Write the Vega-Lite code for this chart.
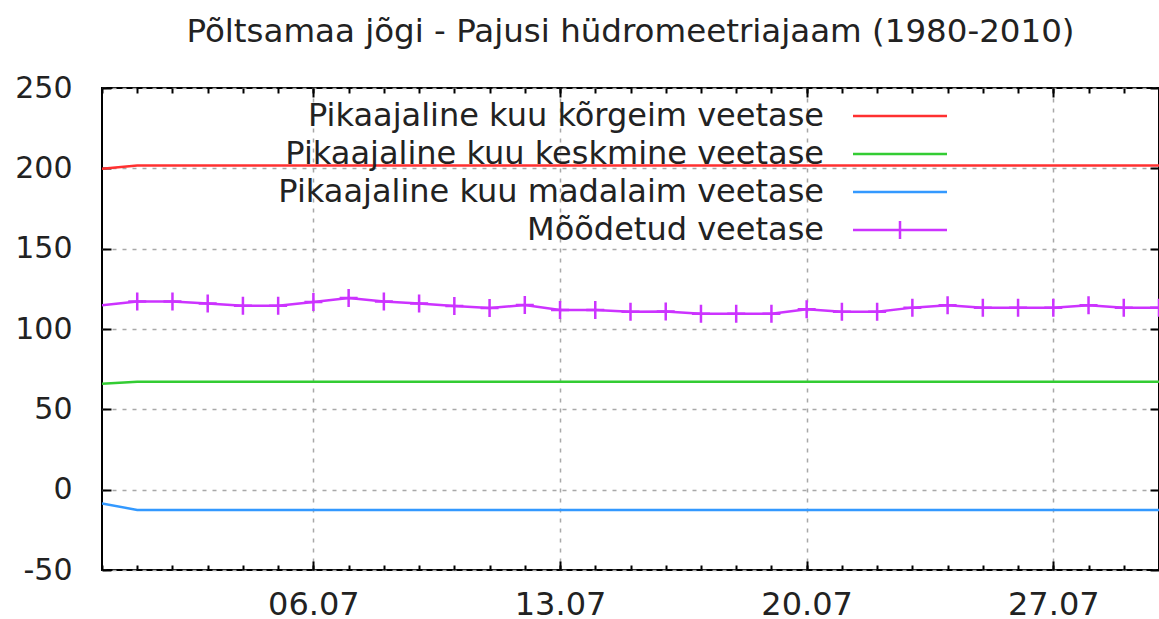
{
  "$schema": "https://vega.github.io/schema/vega-lite/v6.json",
  "width": 1057,
  "height": 482,
  "autosize": {"type": "none"},
  "padding": {"left": 102, "top": 88, "right": 0, "bottom": 49},
  "background": "#ffffff",
  "title": {
    "text": "Põltsamaa jõgi - Pajusi hüdromeetriajaam (1980-2010)",
    "font": "DejaVu Sans",
    "fontSize": 32.5,
    "fontWeight": "normal",
    "color": "#222222",
    "anchor": "middle",
    "frame": "group",
    "baseline": "alphabetic",
    "offset": -1
  },
  "datasets": {
    "levels": [
      {"series": "Pikaajaline kuu kõrgeim veetase", "date": "2010-06-30", "value": 199.8},
      {"series": "Pikaajaline kuu kõrgeim veetase", "date": "2010-07-01", "value": 201.8},
      {"series": "Pikaajaline kuu kõrgeim veetase", "date": "2010-07-30", "value": 201.8},
      {"series": "Pikaajaline kuu keskmine veetase", "date": "2010-06-30", "value": 66.0},
      {"series": "Pikaajaline kuu keskmine veetase", "date": "2010-07-01", "value": 67.2},
      {"series": "Pikaajaline kuu keskmine veetase", "date": "2010-07-30", "value": 67.2},
      {"series": "Pikaajaline kuu madalaim veetase", "date": "2010-06-30", "value": -8.6},
      {"series": "Pikaajaline kuu madalaim veetase", "date": "2010-07-01", "value": -12.6},
      {"series": "Pikaajaline kuu madalaim veetase", "date": "2010-07-30", "value": -12.6},
      {"series": "Mõõdetud veetase", "date": "2010-06-30", "value": 114.8},
      {"series": "Mõõdetud veetase", "date": "2010-07-01", "value": 117.1},
      {"series": "Mõõdetud veetase", "date": "2010-07-02", "value": 117.1},
      {"series": "Mõõdetud veetase", "date": "2010-07-03", "value": 115.9},
      {"series": "Mõõdetud veetase", "date": "2010-07-04", "value": 114.5},
      {"series": "Mõõdetud veetase", "date": "2010-07-05", "value": 114.5},
      {"series": "Mõõdetud veetase", "date": "2010-07-06", "value": 116.8},
      {"series": "Mõõdetud veetase", "date": "2010-07-07", "value": 119.3},
      {"series": "Mõõdetud veetase", "date": "2010-07-08", "value": 117.1},
      {"series": "Mõõdetud veetase", "date": "2010-07-09", "value": 115.8},
      {"series": "Mõõdetud veetase", "date": "2010-07-10", "value": 114.3},
      {"series": "Mõõdetud veetase", "date": "2010-07-11", "value": 113.1},
      {"series": "Mõõdetud veetase", "date": "2010-07-12", "value": 114.9},
      {"series": "Mõõdetud veetase", "date": "2010-07-13", "value": 111.8},
      {"series": "Mõõdetud veetase", "date": "2010-07-14", "value": 111.8},
      {"series": "Mõõdetud veetase", "date": "2010-07-15", "value": 110.8},
      {"series": "Mõõdetud veetase", "date": "2010-07-16", "value": 110.9},
      {"series": "Mõõdetud veetase", "date": "2010-07-17", "value": 109.5},
      {"series": "Mõõdetud veetase", "date": "2010-07-18", "value": 109.5},
      {"series": "Mõõdetud veetase", "date": "2010-07-19", "value": 109.5},
      {"series": "Mõõdetud veetase", "date": "2010-07-20", "value": 112.3},
      {"series": "Mõõdetud veetase", "date": "2010-07-21", "value": 110.8},
      {"series": "Mõõdetud veetase", "date": "2010-07-22", "value": 110.8},
      {"series": "Mõõdetud veetase", "date": "2010-07-23", "value": 113.3},
      {"series": "Mõõdetud veetase", "date": "2010-07-24", "value": 114.8},
      {"series": "Mõõdetud veetase", "date": "2010-07-25", "value": 113.3},
      {"series": "Mõõdetud veetase", "date": "2010-07-26", "value": 113.3},
      {"series": "Mõõdetud veetase", "date": "2010-07-27", "value": 113.3},
      {"series": "Mõõdetud veetase", "date": "2010-07-28", "value": 114.8},
      {"series": "Mõõdetud veetase", "date": "2010-07-29", "value": 113.3},
      {"series": "Mõõdetud veetase", "date": "2010-07-30", "value": 113.3}
    ]
  },
  "data": {"name": "levels"},
  "layer": [
    {
      "mark": {"type": "line", "strokeWidth": 2.5, "interpolate": "linear", "clip": true},
      "encoding": {
        "x": {
          "field": "date", "type": "temporal",
          "scale": {"type": "utc", "domain": [{"year": 2010, "month": 6, "date": 30, "utc": true}, {"year": 2010, "month": 7, "date": 30, "utc": true}]},
          "axis": {
            "orient": "bottom",
            "title": null,
            "values": [
              {"year": 2010, "month": 7, "date": 6, "utc": true},
              {"year": 2010, "month": 7, "date": 13, "utc": true},
              {"year": 2010, "month": 7, "date": 20, "utc": true},
              {"year": 2010, "month": 7, "date": 27, "utc": true}
            ],
            "labelExpr": "utcFormat(datum.value, '%d.%m')",
            "labelFontSize": 32,
            "grid": true,
            "domain": false,
            "ticks": true,
            "tickSize": -9,
            "labelPadding": 28
          }
        },
        "y": {
          "field": "value", "type": "quantitative",
          "scale": {"domain": [-50, 250], "nice": false, "zero": false},
          "axis": {
            "orient": "left",
            "title": null,
            "values": [-50, 0, 50, 100, 150, 200, 250],
            "labelExpr": "'' + datum.value",
            "grid": true,
            "domain": false,
            "tickSize": -9,
            "labelPadding": 39
          }
        },
        "color": {
          "field": "series", "type": "nominal",
          "scale": {
            "domain": ["Pikaajaline kuu kõrgeim veetase", "Pikaajaline kuu keskmine veetase", "Pikaajaline kuu madalaim veetase", "Mõõdetud veetase"],
            "range": ["#ff3030", "#33cc33", "#3399ff", "#cc33ff"]
          },
          "legend": {
            "title": null,
            "orient": "none",
            "legendX": 782,
            "legendY": 12,
            "padding": 0,
            "rowPadding": 6,
            "symbolType": "M-4.7,0H4.7",
            "symbolSize": 400,
            "symbolStrokeWidth": 2.5,
            "labelAlign": "right",
            "labelOffset": -92,
            "labelFont": "DejaVu Sans",
            "labelFontSize": 32,
            "labelColor": "#222222",
            "labelLimit": 2000,
            "encode": {
              "symbols": {
                "update": {
                  "shape": {"signal": "datum.value === 'Mõõdetud veetase' ? 'M-4.7,0H4.7M0,-0.9V0.9' : 'M-4.7,0H4.7'"},
                  "fill": {"value": "transparent"},
                  "stroke": {"scale": "color", "field": "value"},
                  "strokeWidth": {"value": 2.5}
                }
              }
            }
          }
        }
      }
    },
    {
      "transform": [{"filter": "datum.series === 'Mõõdetud veetase' && utcmonth(datum.date) === 6"}],
      "mark": {"type": "point", "shape": "M-1,0H1M0,-1V1", "size": 324, "filled": false, "stroke": "#cc33ff", "strokeWidth": 2.5, "opacity": 1},
      "encoding": {
        "x": {
          "field": "date", "type": "temporal",
          "axis": {
            "orient": "bottom",
            "title": null,
            "tickCount": {"interval": "day", "step": 1},
            "labels": false,
            "grid": false,
            "domain": false,
            "tickSize": -5
          }
        },
        "y": {
          "field": "value", "type": "quantitative",
          "axis": {
            "orient": "right",
            "title": null,
            "values": [-50, 0, 50, 100, 150, 200, 250],
            "labels": false,
            "grid": false,
            "domain": false,
            "tickSize": -9
          }
        }
      }
    },
    {
      "mark": {"type": "point", "opacity": 0},
      "encoding": {
        "x": {
          "field": "date", "type": "temporal",
          "axis": {
            "orient": "top",
            "title": null,
            "values": [
              {"year": 2010, "month": 7, "date": 6, "utc": true},
              {"year": 2010, "month": 7, "date": 13, "utc": true},
              {"year": 2010, "month": 7, "date": 20, "utc": true},
              {"year": 2010, "month": 7, "date": 27, "utc": true}
            ],
            "labels": false,
            "grid": false,
            "domain": false,
            "tickSize": -9
          }
        },
        "y": {"field": "value", "type": "quantitative", "axis": null}
      }
    },
    {
      "mark": {"type": "point", "opacity": 0},
      "encoding": {
        "x": {
          "field": "date", "type": "temporal",
          "axis": {
            "orient": "top",
            "title": null,
            "tickCount": {"interval": "day", "step": 1},
            "labels": false,
            "grid": false,
            "domain": false,
            "tickSize": -5
          }
        },
        "y": {"field": "value", "type": "quantitative", "axis": null}
      }
    }
  ],
  "resolve": {"axis": {"x": "independent", "y": "independent"}},
  "config": {
    "font": "DejaVu Sans",
    "view": {"stroke": "#000000", "strokeWidth": 2},
    "axis": {
      "labelFont": "DejaVu Sans",
      "labelFontSize": 30,
      "labelColor": "#222222",
      "tickColor": "#000000",
      "tickWidth": 2,
      "gridColor": "#a8a8a8",
      "gridWidth": 1.5,
      "gridDash": [4, 6],
      "gridOpacity": 1,
      "labelOverlap": false,
      "labelFlush": false
    }
  }
}
